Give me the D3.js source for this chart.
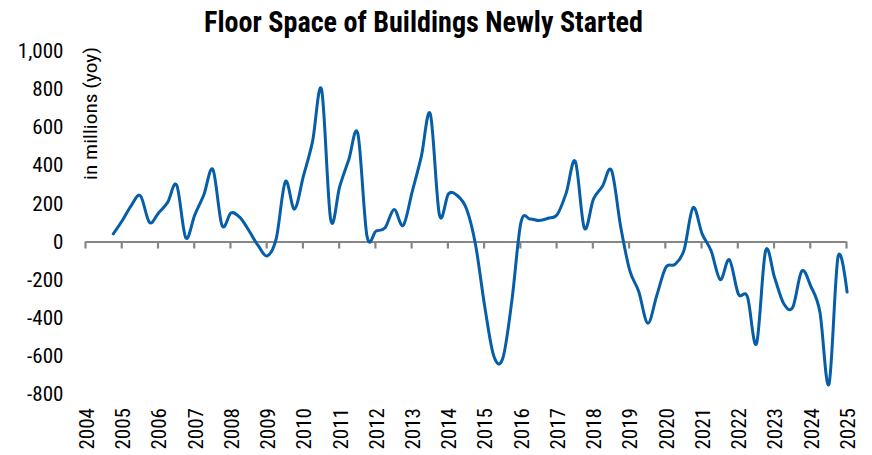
<!DOCTYPE html>
<html>
<head>
<meta charset="utf-8">
<script src="https://cdn.jsdelivr.net/npm/d3@7"></script>
<style>
  body { margin: 0; background: #fff; }
  svg { display: block; }
  text { font-family: "Roboto Condensed", Roboto, sans-serif; fill: #000; }
</style>
</head>
<body>
<svg id="chart"></svg>
<script>
// quarterly data, yoy change in floor space newly started (millions)
const quarters = [
  "2004Q4",
  "2005Q1","2005Q2","2005Q3","2005Q4","2006Q1","2006Q2","2006Q3","2006Q4",
  "2007Q1","2007Q2","2007Q3","2007Q4","2008Q1","2008Q2","2008Q3","2008Q4",
  "2009Q1","2009Q2","2009Q3","2009Q4","2010Q1","2010Q2","2010Q3","2010Q4",
  "2011Q1","2011Q2","2011Q3","2011Q4","2012Q1","2012Q2","2012Q3","2012Q4",
  "2013Q1","2013Q2","2013Q3","2013Q4","2014Q1","2014Q2","2014Q3","2014Q4",
  "2015Q1","2015Q2","2015Q3","2015Q4","2016Q1","2016Q2","2016Q3","2016Q4",
  "2017Q1","2017Q2","2017Q3","2017Q4","2018Q1","2018Q2","2018Q3","2018Q4",
  "2019Q1","2019Q2","2019Q3","2019Q4","2020Q1","2020Q2","2020Q3","2020Q4",
  "2021Q1","2021Q2","2021Q3","2021Q4","2022Q1","2022Q2","2022Q3","2022Q4",
  "2023Q1","2023Q2","2023Q3","2023Q4","2024Q1","2024Q2","2024Q3","2024Q4",
  "2025Q1"
];
const floorSpace = [
  40,
  110, 190, 240, 100, 150, 205, 296, 20,
  140, 245, 378, 85, 150, 125, 55, -22,
  -75, 18, 315, 170, 345, 525, 795, 115,
  290, 430, 565, 30, 55, 72, 168, 84,
  262, 445, 668, 140, 250, 240, 170, -20,
  -340, -600, -612, -310, 100, 118, 110, 122,
  141, 255, 420, 70, 222, 290, 373, 80,
  -150, -262, -428, -282, -135, -120, -45, 178,
  40, -50, -200, -95, -275, -290, -536, -50,
  -190, -325, -345, -155, -235, -370, -748, -80,
  -265
];
const yearTicks = [2004,2005,2006,2007,2008,2009,2010,2011,2012,2013,2014,
                   2015,2016,2017,2018,2019,2020,2021,2022,2023,2024,2025];
const valueTicks = [1000, 800, 600, 400, 200, 0, -200, -400, -600, -800];

const chartTitle = "Floor Space of Buildings Newly Started";
const yTitle = "in millions (yoy)";

function getConfig() {
  let width = 872;
  let height = 455;
  let container = d3.select("#chart").attr("width", width).attr("height", height);
  return { width, height, container };
}

function getScales() {
  let xScale = d3.scaleLinear().domain([2004, 2025]).range([85, 846]);
  let yScale = d3.scaleLinear().domain([-800, 1000]).range([394.1, 50.8]);
  return { xScale, yScale };
}

// quarter label -> decimal year (points sit a little after the quarter start)
function quarterToYear(q) {
  let year = +q.slice(0, 4);
  let n = +q.slice(5);
  return year + (n - 1) / 4 + 0.03;
}

// squeeze text to look like the condensed face of the original
function condense(sel, factor) {
  sel.each(function() {
    let len = this.getComputedTextLength();
    d3.select(this).attr("textLength", len * factor).attr("lengthAdjust", "spacingAndGlyphs");
  });
}

function digitFactor(container) {
  // measure a run of digits so tick labels end up ~10.4px per digit
  let probe = container.append("text").style("font-size", "21px").text("0000");
  let w = probe.node().getComputedTextLength();
  probe.remove();
  return 41.6 / w;
}

function drawAxes(scales, config) {
  let { xScale, yScale } = scales;
  let { container } = config;
  let factor = digitFactor(container);

  let axisX = d3.axisBottom(xScale)
    .tickValues(yearTicks)
    .tickFormat(d3.format("d"))
    .tickSize(7)
    .tickSizeOuter(0);

  let gx = container.append("g")
    .attr("transform", `translate(0,${yScale(0)})`)
    .call(axisX);
  gx.select(".domain").attr("stroke", "#868686").attr("stroke-width", 2.2);
  gx.selectAll(".tick line").attr("stroke", "#868686").attr("stroke-width", 2.2);
  let xLabels = gx.selectAll(".tick text")
    .attr("transform", "rotate(-90)")
    .attr("text-anchor", "end")
    .attr("x", -(408 - yScale(0)))
    .attr("y", 1)
    .attr("dy", "0.35em")
    .style("font-size", "21px")
    .attr("fill", "#000");
  condense(xLabels, factor);

  let axisY = d3.axisLeft(yScale)
    .tickValues(valueTicks)
    .tickFormat(d => (d < 0 ? "-" : "") + d3.format(",")(Math.abs(d)))
    .tickSize(0)
    .tickPadding(0);
  let gy = container.append("g")
    .attr("transform", "translate(63.5,0)")
    .call(axisY);
  gy.select(".domain").remove();
  let yLabels = gy.selectAll(".tick text")
    .style("font-size", "21px")
    .attr("fill", "#000");
  condense(yLabels, factor);
}

function drawTitles(config) {
  let { container } = config;
  container.append("text")
    .attr("x", 423.5)
    .attr("y", 31.7)
    .attr("text-anchor", "middle")
    .style("font-size", "30px")
    .style("font-weight", "bold")
    .attr("textLength", 439)
    .attr("lengthAdjust", "spacingAndGlyphs")
    .text(chartTitle);

  container.append("text")
    .attr("transform", "translate(97,113.5) rotate(-90)")
    .attr("text-anchor", "middle")
    .style("font-size", "18px")
    .attr("textLength", 133)
    .attr("lengthAdjust", "spacingAndGlyphs")
    .text(yTitle);
}

function drawLine(scales, config) {
  let { xScale, yScale } = scales;
  let { container } = config;
  let points = quarters.map((q, i) => ({ t: quarterToYear(q), v: floorSpace[i] }));

  let line = d3.line()
    .x(d => xScale(d.t))
    .y(d => yScale(d.v))
    .curve(d3.curveCardinal.tension(0));

  container.append("path")
    .datum(points)
    .attr("d", line)
    .attr("fill", "none")
    .attr("stroke", "#065ea8")
    .attr("stroke-width", 3)
    .attr("stroke-linejoin", "round")
    .attr("stroke-linecap", "round");
}

function drawChart() {
  let config = getConfig();
  let scales = getScales();
  drawAxes(scales, config);
  drawLine(scales, config);
  drawTitles(config);
}

drawChart();
</script>
</body>
</html>
